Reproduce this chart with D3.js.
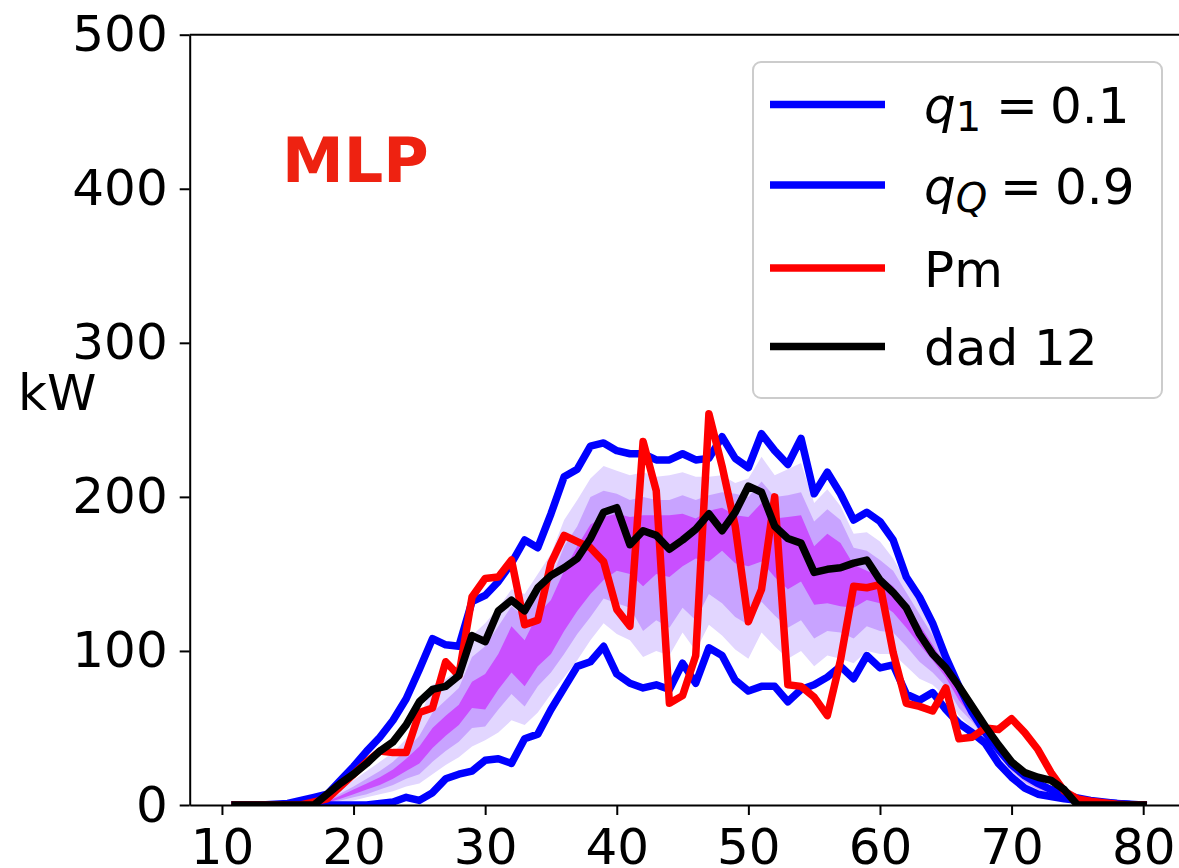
<!DOCTYPE html>
<html><head><meta charset="utf-8">
<script src="https://cdn.jsdelivr.net/npm/d3@7"></script>
<style>html,body{margin:0;padding:0;background:#fff;overflow:hidden}</style>
</head><body>
<svg id="c" width="1179" height="868"></svg>
<script>
// ---------------- data ----------------
const hours = [11,12,13,14,15,16,17,18,19,20,21,22,23,24,25,26,27,28,29,30,31,32,33,34,35,36,37,38,39,40,41,42,43,44,45,46,47,48,49,50,51,52,53,54,55,56,57,58,59,60,61,62,63,64,65,66,67,68,69,70,71,72,73,74,75,76,77,78,79,80];
// lower quantile q1 = 0.1
const q10 = [0,0,0,0,0,0,0,0,0,0,0,1,2,5,3,8,17,20,22,29,30,27,43,46,62,76,90,93,103,85,79,76,78,75,92,79,102,97,81,74,77,77,67,75,78,83,90,82,97,89,91,72,68,73,62,53,47,40,27,18,11,7,5.5,4,3,2,1.5,1,0.5,0];
const q20 = [0,0,0,0,0,0,0,0.5,1.5,3,5,7,9,12,14,20,26,31,38,42,47,55,52,60,72,83,94,107,118,111,107,96,100,97,112,100,117,110,101,95,112,103,95,100,90,97,95,92,100,98,98,90,82,78,70,58,50,41,30,20,13,9,6.5,4.5,3.2,2.2,1.6,0.8,0.3,0];
const q30 = [0,0,0,0,0,0,0,1,3,5,7,10,13,17,20,28,35,41,50,51,62,72,64,77,86,98,111,122,134,131,128,113,120,115,128,120,137,131,122,117,132,123,115,120,108,113,112,108,116,113,112,103,93,86,77,63,54,43,32,22,15,10,7.5,5,3.5,2.4,1.6,0.8,0.3,0];
const q40 = [0,0,0,0,0,0,0,1.5,4,7,10,13,17,22,27,37,45,52,63,62,75,86,77,90,98,113,126,137,146,152,150,142,150,148,155,160,158,165,157,155,158,148,140,145,130,131,129,128,133,131,125,115,104,94,83,68,57,45,33,23,16,11,8,5.5,3.8,2.6,1.7,0.8,0.3,0];
const q60 = [0,0,0,0,0,0,0,2.5,6,10,14,18,23,30,38,50,58,65,80,85,98,116,107,124,133,152,168,182,187,189,187,188,188,188,189,186,191,193,188,187,196,186,187,188,168,176,170,156,152,148,142,130,117,104,90,73,60,47,35,25,18,12.5,9,6.2,4,2.8,1.7,0.8,0.3,0];
const q70 = [0,0,0,0,0,0,0,3,7.5,12,17,22,28,36,45,60,68,76,96,103,116,129,122,137,146,168,181,200,204,202,198,200,198,198,201,198,201,203,202,200,210,200,201,203,184,192,185,167,165,159,152,138,124,110,94,76,62,48,36,26,19,13.5,10,6.8,4.3,2.9,1.8,0.8,0.3,0];
const q80 = [0,0,0,0,0,0,0.5,4,10,16,22,28,34,43,56,78,82,88,110,118,128,140,137,150,163,185,198,212,220,217,214,216,213,214,216,213,213,214,209,212,226,214,218,222,196,205,194,176,177,171,160,145,130,115,97,79,63,49,37,27,20,15,11,7.5,4.5,3,1.8,0.8,0.3,0];
// upper quantile qQ = 0.9
const q90 = [0,0,0,0.5,1,3,5,7,16,25,35,44,55,69,88,108,104,103,132,136,145,157,172,167,189,213,218,233,235,230,228,228,224,224,228,224,225,239,225,219,241,230,221,238,202,216,202,185,190,184,172,148,135,118,96,77,60,47,36,26,19,14,10,7,4.5,3,2,1,0.3,0];
// measured power Pm
const pm = [0,0,0,0,0,0,2,4,12,20,28,35,34,34,60,63,93,84,135,147,148,159,117,120,157,175,171,167,158,127,116,236,204,66,71,97,254,220,181,119,140,200,78,77,70,58,94,142,141,143,99,66,64,61,76,43,44,50,49,56,47,36,21,9,4,2.5,1.5,0.5,0,0];
// dad 12
const dad12 = [0,0,0,0,0,0,0,7,14,20,27,35,41,52,67,75,77,84,110,106,126,133,126,141,149,154,160,173,190,193,169,178,175,166,172,179,189,178,190,207,203,181,173,170,151,153,154,157,159,146,138,128,111,98,89,77,64,51,39,28,21,18,16,10,0,0,0,0,0,0];

const xTicks = [10,20,30,40,50,60,70,80];
const yTicks = [0,100,200,300,400,500];
const legendNames = ["q1","qQ","Pm","dad 12"];
const legendValues = ["0.1","0.9"];
const yLabel = "kW";
const title = "MLP";

// ---------------- layout ----------------
const W = 1179, H = 868;
const L = 189.7, B = 805, T = 34.7;
const x = d3.scaleLinear().domain([7.55, 83.45]).range([L, 1188.6]);
const y = d3.scaleLinear().domain([0, 500]).range([B, T]);
const FONT = "DejaVu Sans, Liberation Sans, sans-serif";

const svg = d3.select("#c");
svg.append("rect").attr("width", W).attr("height", H).attr("fill", "#fff");

svg.append("defs").append("clipPath").attr("id", "clip")
  .append("rect").attr("x", L).attr("y", T).attr("width", 1188.6 - L).attr("height", B - T);

const plot = svg.append("g").attr("clip-path", "url(#clip)");

const idx = hours.map((h, i) => i);
function band(lo, hi, color) {
  const a = d3.area().x(i => x(hours[i])).y0(i => y(lo[i])).y1(i => y(hi[i]));
  plot.append("path").datum(idx).attr("d", a).attr("fill", color).attr("stroke", "none");
}
band(q20, q80, "#e2d6ff");
band(q30, q70, "#c8a3ff");
band(q40, q60, "#c94fff");

function line(arr, color) {
  const l = d3.line().x(i => x(hours[i])).y(i => y(arr[i]));
  plot.append("path").datum(idx).attr("d", l).attr("fill", "none")
    .attr("stroke", color).attr("stroke-width", 7.5)
    .attr("stroke-linejoin", "round").attr("stroke-linecap", "square");
}
line(q10, "#0000ff");
line(q90, "#0000ff");
line(pm, "#ff0000");
line(dad12, "#000000");

// axes
const yAxis = d3.axisLeft(y).tickValues(yTicks).tickSize(10).tickSizeOuter(0).tickPadding(12);
const xAxis = d3.axisBottom(x).tickValues(xTicks).tickSize(10).tickSizeOuter(0).tickPadding(13);
const gy = svg.append("g").attr("transform", `translate(${L},0)`).call(yAxis);
const gx = svg.append("g").attr("transform", `translate(0,${B})`).call(xAxis);
[gx, gy].forEach(g => {
  g.selectAll("path.domain").attr("stroke", "#000").attr("stroke-width", 2);
  g.selectAll(".tick line").attr("stroke", "#000").attr("stroke-width", 2);
  g.selectAll(".tick text").attr("fill", "#000").style("font-family", FONT).style("font-size", "50px");
});
// top spine
svg.append("line").attr("x1", L).attr("x2", 1188.6).attr("y1", T).attr("y2", T)
  .attr("stroke", "#000").attr("stroke-width", 2);

// y label
svg.append("text").attr("x", 18).attr("y", 410).text(yLabel)
  .style("font-family", FONT).style("font-size", "50px").attr("fill", "#000");

// title text
svg.append("text").attr("x", 282).attr("y", 182).text(title)
  .style("font-family", FONT).style("font-size", "62px").style("font-weight", "bold")
  .attr("fill", "#ee2211");

// legend
const lg = svg.append("g");
lg.append("rect").attr("x", 753).attr("y", 62).attr("width", 409).attr("height", 336)
  .attr("rx", 8).attr("fill", "#fff").attr("fill-opacity", 0.8)
  .attr("stroke", "#cccccc").attr("stroke-width", 2);
const rows = [104.5, 185, 268, 346.5];
const colors = ["#0000ff", "#0000ff", "#ff0000", "#000000"];
rows.forEach((ry, i) => {
  lg.append("line").attr("x1", 770).attr("x2", 885).attr("y1", ry).attr("y2", ry)
    .attr("stroke", colors[i]).attr("stroke-width", 7.5);
});
function mathLabel(ry, sub, val, eqX, valX) {
  const t = lg.append("text").attr("y", ry + 18.5).style("font-family", FONT)
    .style("font-size", "50px").attr("fill", "#000");
  t.append("tspan").attr("x", 924).style("font-style", "italic").text("q");
  t.append("tspan").attr("dy", 8).style("font-size", "40px").style("font-style", sub === "Q" ? "italic" : "normal").text(sub);
  t.append("tspan").attr("x", eqX).attr("dy", -8).text("=");
  t.append("tspan").attr("x", valX).text(val);
}
mathLabel(rows[0], legendNames[0].slice(1), legendValues[0], 996, 1050);
mathLabel(rows[1], legendNames[1].slice(1), legendValues[1], 1000, 1055);
[2, 3].forEach(i => {
  lg.append("text").attr("x", 924).attr("y", rows[i] + 18.5).text(legendNames[i])
    .style("font-family", FONT).style("font-size", "50px").attr("fill", "#000");
});
</script>
</body></html>
